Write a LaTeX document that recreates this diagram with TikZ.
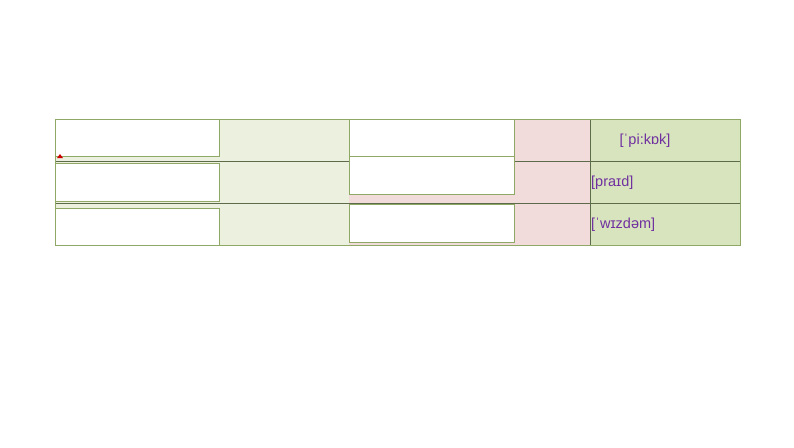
\documentclass[tikz,border=0pt]{standalone}
\usepackage{fontspec}
\setmainfont{Liberation Sans}
\definecolor{lg}{HTML}{EBF1DE}
\definecolor{dg}{HTML}{D7E4BD}
\definecolor{pk}{HTML}{F2DCDB}
\definecolor{bd}{HTML}{8FA866}
\definecolor{ln}{HTML}{5E6B4A}
\definecolor{pu}{HTML}{7030A0}
\tikzset{wbox/.style={draw=bd,fill=white,line width=0.8pt},
ipa/.style={text=pu,font=\fontsize{14.5pt}{16pt}\selectfont,inner sep=0pt}}
\begin{document}
\begin{tikzpicture}[x=1pt,y=-1pt]
\useasboundingbox (0,0) rectangle (794,447);
\fill[lg] (55,119) rectangle (349,245);
\fill[pk] (349,119) rectangle (590,245);
\fill[dg] (590,119) rectangle (740,245);
\draw[ln,line width=0.6pt] (55,161) -- (740,161) (55,203) -- (740,203) (590,119) -- (590,245);
\draw[bd,line width=0.8pt] (55,119) rectangle (740,245);
\draw[wbox] (55,119) rectangle (219,156);
\draw[wbox] (55,163) rectangle (219,201);
\draw[wbox] (55,208) rectangle (219,245);
\draw[wbox] (349,119) rectangle (514,156);
\draw[wbox] (349,156) rectangle (514,194);
\draw[wbox] (349,204) rectangle (514,242);
\fill[red!80!black] (57,158) -- (60,154) -- (63,158) -- cycle;
\node[ipa] (a) at (645,141) {[ˈpi:kɒk]};
\node[ipa,anchor=west] (b) at (591,183) {[praɪd]};
\node[ipa,anchor=west] (c) at (591,225) {[ˈwɪzdəm]};
\end{tikzpicture}
\end{document}
